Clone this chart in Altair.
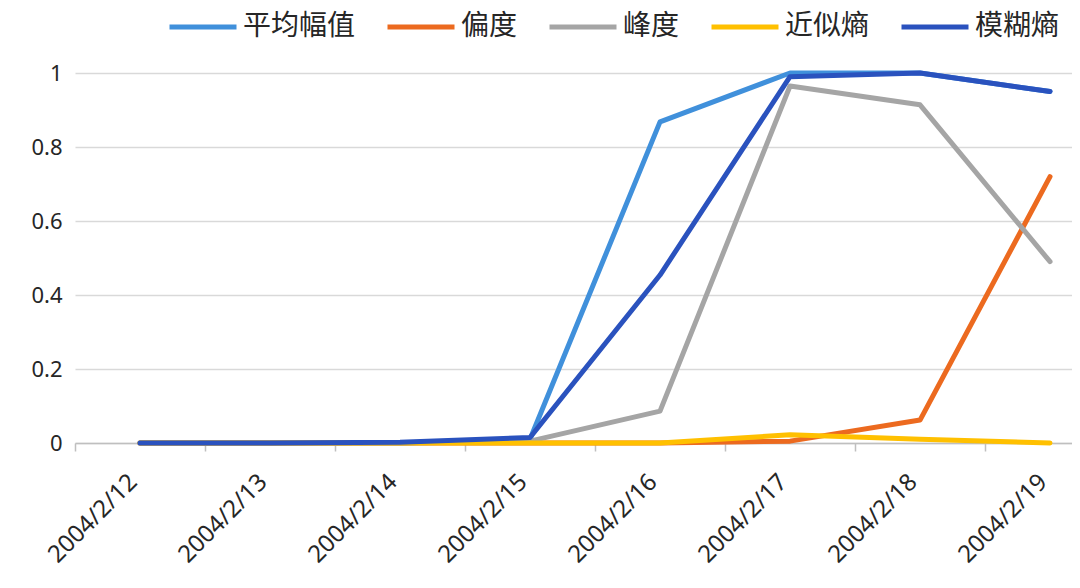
import altair as alt
import pandas as pd

dates = ["2004/2/12", "2004/2/13", "2004/2/14", "2004/2/15",
         "2004/2/16", "2004/2/17", "2004/2/18", "2004/2/19"]
series = ["平均幅值", "偏度", "峰度", "近似熵", "模糊熵"]
mean_amp = [0, 0, 0, 0.01, 0.868, 1.0, 1.0, 0.95]
skewness = [0, 0, 0, 0, 0, 0.005, 0.062, 0.72]
kurtosis = [0, 0, 0, 0.005, 0.086, 0.965, 0.914, 0.49]
approx_en = [0, 0, 0, 0, 0, 0.022, 0.01, 0]
fuzzy_en = [0, 0, 0.002, 0.015, 0.454, 0.99, 1.0, 0.95]
colors = ["#4090DB", "#EC6A1F", "#A5A5A5", "#FFC000", "#2A52BE"]
y_ticks = [0, 0.2, 0.4, 0.6, 0.8, 1]

rows = []
for name, vals in zip(series, [mean_amp, skewness, kurtosis, approx_en, fuzzy_en]):
    for i, (d, v) in enumerate(zip(dates, vals)):
        rows.append({"series": name, "idx": i, "date": d, "value": v})
df = pd.DataFrame(rows)

label_expr = "[" + ",".join(f"'{d}'" for d in dates) + "][round(datum.value + 0.5)]"
boundaries = [i - 0.5 for i in range(len(dates))]

chart = alt.Chart(df).mark_line(
    strokeWidth=5, strokeJoin="round", strokeCap="round"
).encode(
    x=alt.X("idx:Q",
            scale=alt.Scale(domain=[-0.5, 7.169], nice=False, zero=False),
            axis=alt.Axis(values=boundaries, labelExpr=label_expr, labelOffset=58,
                          labelAngle=-45, labelAlign="right", labelBaseline="middle",
                          labelPadding=27, tickSize=8, tickWidth=1.5, domainWidth=1.5,
                          title=None, grid=False, labelFlush=False, labelOverlap=False,
                          labelFontSize=24)),
    y=alt.Y("value:Q",
            scale=alt.Scale(domain=[0, 1], nice=False),
            axis=alt.Axis(values=y_ticks, format="~g", title=None, domain=False,
                          ticks=False, labelPadding=13, gridColor="#D9D9D9",
                          gridWidth=1.5, labelFontSize=22)),
    color=alt.Color("series:N",
                    scale=alt.Scale(domain=series, range=colors),
                    legend=alt.Legend(orient="none", legendX=92, legendY=-82,
                                      direction="horizontal", columns=5, title=None,
                                      gridAlign="none",
                                      symbolType="stroke", symbolSize=4489,
                                      symbolStrokeWidth=5,
                                      labelFont="Noto Sans CJK SC", labelFontSize=28,
                                      labelColor="#262626", labelOffset=4,
                                      columnPadding=21, labelLimit=300)),
).properties(
    width=997, height=370,
    padding={"left": 67, "top": 65, "right": 0, "bottom": 132},
    autosize=alt.AutoSizeParams(type="none"),
).configure_view(
    stroke=None
).configure_axis(
    labelFont="Noto Sans", labelColor="#262626",
    domainColor="#BFBFBF", tickColor="#BFBFBF"
)

chart.save("out.html", embed_options={"renderer": "svg", "actions": False})
